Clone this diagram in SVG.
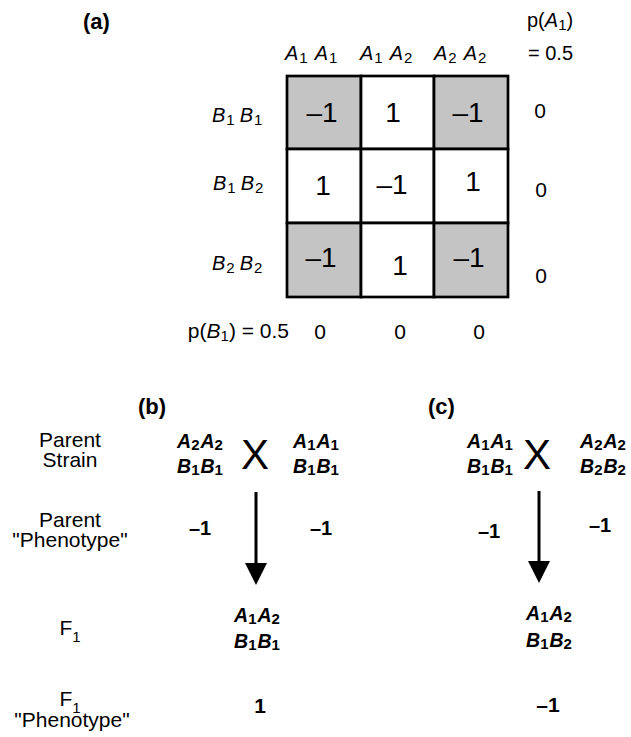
<svg xmlns="http://www.w3.org/2000/svg" width="631" height="737" viewBox="0 0 631 737">
<style>
text{font-family:"Liberation Sans",Arial,Helvetica,sans-serif;fill:#000}
.lab{font-size:20px}
.it{font-style:italic}
.sub{font-size:15px;font-style:normal}
.num{font-size:28px;text-anchor:middle}
.z{font-size:21px;text-anchor:middle}
.pl{font-size:22px;font-weight:bold}
.side{font-size:21px;text-anchor:middle}
.gen{font-size:19.5px;font-weight:bold;text-anchor:middle}
.gsub{font-size:15px;font-style:normal}
.cross{font-size:42px;text-anchor:middle}
.cell{stroke:#000;stroke-width:2.7}
.sh{fill:#c4c4c4}
.wh{fill:#fff}
.arr{stroke:#000;stroke-width:3;fill:none}
</style>
<defs>
<marker id="head" viewBox="0 0 22 22" refX="12" refY="11" markerWidth="22" markerHeight="22" markerUnits="userSpaceOnUse" orient="auto">
<path d="M0,0 L22,11 L0,22 z" fill="#000"/>
</marker>
</defs>
<rect width="631" height="737" fill="#fff"/>

<!-- Panel (a) -->
<g id="panel-a-label"><text class="pl" x="83" y="29">(a)</text></g>
<g id="pA1-label">
<text class="lab" x="527" y="27">p(<tspan class="it">A</tspan><tspan class="sub" dy="3">1</tspan><tspan dy="-3">)</tspan><tspan x="528" dy="33">= 0.5</tspan></text>
</g>
<g id="col-headers">
<text class="lab" x="285" y="60"><tspan class="it">A</tspan><tspan class="sub" dx="1" dy="3">1</tspan><tspan class="it" dx="7" dy="-3">A</tspan><tspan class="sub" dx="1" dy="3">1</tspan></text>
<text class="lab" x="360" y="60"><tspan class="it">A</tspan><tspan class="sub" dx="1" dy="3">1</tspan><tspan class="it" dx="7" dy="-3">A</tspan><tspan class="sub" dx="1" dy="3">2</tspan></text>
<text class="lab" x="434" y="60"><tspan class="it">A</tspan><tspan class="sub" dx="1" dy="3">2</tspan><tspan class="it" dx="7" dy="-3">A</tspan><tspan class="sub" dx="1" dy="3">2</tspan></text>
</g>
<g id="row-headers">
<text class="lab" x="212" y="122"><tspan class="it">B</tspan><tspan class="sub" dx="1" dy="3">1</tspan><tspan class="it" dx="5" dy="-3">B</tspan><tspan class="sub" dx="1" dy="3">1</tspan></text>
<text class="lab" x="213" y="190"><tspan class="it">B</tspan><tspan class="sub" dx="1" dy="3">1</tspan><tspan class="it" dx="5" dy="-3">B</tspan><tspan class="sub" dx="1" dy="3">2</tspan></text>
<text class="lab" x="212" y="270"><tspan class="it">B</tspan><tspan class="sub" dx="1" dy="3">2</tspan><tspan class="it" dx="5" dy="-3">B</tspan><tspan class="sub" dx="1" dy="3">2</tspan></text>
</g>
<g id="grid">
<rect class="cell sh" x="287" y="76" width="74" height="73"/>
<rect class="cell wh" x="361" y="76" width="73" height="73"/>
<rect class="cell sh" x="434" y="76" width="74" height="73"/>
<rect class="cell wh" x="287" y="149" width="74" height="74"/>
<rect class="cell wh" x="361" y="149" width="73" height="74"/>
<rect class="cell wh" x="434" y="149" width="74" height="74"/>
<rect class="cell sh" x="287" y="223" width="74" height="74"/>
<rect class="cell wh" x="361" y="223" width="73" height="74"/>
<rect class="cell sh" x="434" y="223" width="74" height="74"/>
<text class="num" x="322" y="122">–1</text>
<text class="num" x="393" y="122">1</text>
<text class="num" x="468" y="122">–1</text>
<text class="num" x="323" y="195">1</text>
<text class="num" x="392" y="194">–1</text>
<text class="num" x="473" y="191">1</text>
<text class="num" x="321" y="267">–1</text>
<text class="num" x="400" y="275">1</text>
<text class="num" x="469" y="267">–1</text>
</g>
<g id="row-freqs">
<text class="z" x="540" y="118">0</text>
<text class="z" x="541" y="197">0</text>
<text class="z" x="541" y="283">0</text>
</g>
<g id="col-freqs">
<text class="lab" x="289" y="338" text-anchor="end" style="font-size:21px">p(<tspan class="it">B</tspan><tspan class="sub" dy="3">1</tspan><tspan dy="-3">) = 0.5</tspan></text>
<text class="z" x="320" y="339">0</text>
<text class="z" x="400" y="339">0</text>
<text class="z" x="479" y="339">0</text>
</g>

<!-- Side labels -->
<g id="side-labels">
<text class="side" x="70" y="447">Parent<tspan x="70" dy="20">Strain</tspan></text>
<text class="side" x="70" y="527">Parent<tspan x="70" dy="20">"Phenotype"</tspan></text>
<text class="side" x="70" y="635">F<tspan class="sub" dy="7">1</tspan></text>
<text class="side" x="70" y="706">F<tspan class="sub" dy="7">1</tspan><tspan x="72" dy="14">"Phenotype"</tspan></text>
</g>

<!-- Panel (b) -->
<g id="panel-b">
<text class="pl" x="138" y="414">(b)</text>
<g id="b-parent1">
<text class="gen" x="200" y="448"><tspan class="it">A</tspan><tspan class="gsub" dy="2">2</tspan><tspan class="it" dx="1" dy="-2">A</tspan><tspan class="gsub" dy="2">2</tspan></text>
<text class="gen" x="200" y="473"><tspan class="it">B</tspan><tspan class="gsub" dy="2">1</tspan><tspan class="it" dx="1" dy="-2">B</tspan><tspan class="gsub" dy="2">1</tspan></text>
<text class="gen" x="200" y="535" style="font-size:20px">–1</text>
</g>
<text class="cross" x="255" y="469">X</text>
<g id="b-parent2">
<text class="gen" x="316" y="448"><tspan class="it">A</tspan><tspan class="gsub" dy="2">1</tspan><tspan class="it" dx="1" dy="-2">A</tspan><tspan class="gsub" dy="2">1</tspan></text>
<text class="gen" x="316" y="473"><tspan class="it">B</tspan><tspan class="gsub" dy="2">1</tspan><tspan class="it" dx="1" dy="-2">B</tspan><tspan class="gsub" dy="2">1</tspan></text>
<text class="gen" x="321" y="535" style="font-size:20px">–1</text>
</g>
<g id="b-f1">
<text class="gen" x="257" y="622"><tspan class="it">A</tspan><tspan class="gsub" dy="2">1</tspan><tspan class="it" dx="1" dy="-2">A</tspan><tspan class="gsub" dy="2">2</tspan></text>
<text class="gen" x="257" y="648"><tspan class="it">B</tspan><tspan class="gsub" dy="2">1</tspan><tspan class="it" dx="1" dy="-2">B</tspan><tspan class="gsub" dy="2">1</tspan></text>
<text class="gen" x="260" y="713" style="font-size:21px">1</text>
</g>
</g>

<!-- Panel (c) -->
<g id="panel-c">
<text class="pl" x="428" y="414">(c)</text>
<g id="c-parent1">
<text class="gen" x="490" y="448"><tspan class="it">A</tspan><tspan class="gsub" dy="2">1</tspan><tspan class="it" dx="1" dy="-2">A</tspan><tspan class="gsub" dy="2">1</tspan></text>
<text class="gen" x="490" y="473"><tspan class="it">B</tspan><tspan class="gsub" dy="2">1</tspan><tspan class="it" dx="1" dy="-2">B</tspan><tspan class="gsub" dy="2">1</tspan></text>
<text class="gen" x="489" y="538" style="font-size:20px">–1</text>
</g>
<text class="cross" x="537" y="469">X</text>
<g id="c-parent2">
<text class="gen" x="603" y="448"><tspan class="it">A</tspan><tspan class="gsub" dy="2">2</tspan><tspan class="it" dx="1" dy="-2">A</tspan><tspan class="gsub" dy="2">2</tspan></text>
<text class="gen" x="603" y="473"><tspan class="it">B</tspan><tspan class="gsub" dy="2">2</tspan><tspan class="it" dx="1" dy="-2">B</tspan><tspan class="gsub" dy="2">2</tspan></text>
<text class="gen" x="600" y="532" style="font-size:20px">–1</text>
</g>
<g id="c-f1">
<text class="gen" x="549" y="620"><tspan class="it">A</tspan><tspan class="gsub" dy="2">1</tspan><tspan class="it" dx="1" dy="-2">A</tspan><tspan class="gsub" dy="2">2</tspan></text>
<text class="gen" x="549" y="647"><tspan class="it">B</tspan><tspan class="gsub" dy="2">1</tspan><tspan class="it" dx="1" dy="-2">B</tspan><tspan class="gsub" dy="2">2</tspan></text>
<text class="gen" x="548" y="712" style="font-size:21px">–1</text>
</g>
</g>

<g id="connectors">
<line class="arr" x1="256" y1="492" x2="256" y2="575" marker-end="url(#head)"/>
<line class="arr" x1="539" y1="491" x2="539" y2="573" marker-end="url(#head)"/>
</g>
</svg>
